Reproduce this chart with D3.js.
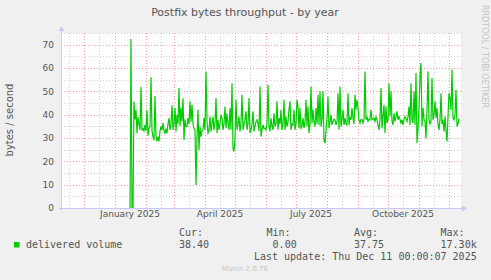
<!DOCTYPE html>
<html>
<head>
<meta charset="utf-8">
<script src="https://cdn.jsdelivr.net/npm/d3@7"></script>
<style>
  body { margin: 0; background: #f0f0f0; }
  svg { display: block; }
  text { fill: #555; }
</style>
</head>
<body>
<div id="chart"></div>
<script>
// delivered volume, one value per day, starting 2025-01-16
const seriesStart = Date.UTC(2025, 0, 16);
const delivered = [
  0, 72.4, 0, 0, 45.6, 38, 42, 32, 39, 36, 33.5, 52, 33.5, 34, 33, 35.6, 33, 42, 31, 34,
  35, 56, 33, 30.6, 29, 48, 31, 28.5, 30.6, 28.5, 33, 35, 33.5, 36.4, 33, 32, 34, 32, 36, 38.5,
  33.5, 36, 44, 33.5, 36, 43, 32.8, 40, 36, 51.4, 35, 42.8, 37, 47, 29.2, 38, 34.9, 35, 38.5, 36,
  45.7, 37, 44.2, 36, 34, 33.5, 9.9, 30, 42.1, 24.9, 34.9, 30.6, 33, 33.5, 38.5, 33.5, 58.5, 37.1, 32.1, 33,
  39.2, 32.8, 36, 39.2, 33.5, 36, 47.1, 32.1, 37.8, 33.5, 36, 39.9, 38.5, 33.5, 36, 43.5, 34.2, 40.6, 36, 33.5,
  42.8, 33.5, 53.5, 25.6, 24.2, 30, 46.4, 33.5, 36, 39.2, 32.8, 36.4, 48.5, 33.5, 36, 37.8, 41.4, 33.5, 36, 47.1,
  32.1, 33.5, 36, 41.4, 32.8, 34.9, 37, 37.8, 36.4, 33, 52.1, 30.6, 33.5, 35.6, 34, 34.2, 33.5, 36, 52.8, 34.9,
  32.8, 38.5, 35, 33.5, 40.6, 34.9, 36, 45.7, 33.5, 38.5, 36, 42.1, 33.5, 36, 46.4, 33.5, 39.2, 34.9, 37, 42.1,
  45.7, 33.5, 36, 35.6, 42.1, 33.5, 36, 46.4, 43.5, 34.2, 42.8, 34.2, 34.9, 38.5, 34.2, 37, 46.4, 34.9, 43.5, 32.1,
  36, 52.1, 36.4, 42.1, 37, 34.9, 42.8, 36, 48.5, 35.6, 50, 34.9, 38, 50, 29.2, 27.8, 33, 38.5, 47.8, 34.2,
  37, 39.9, 35.6, 37.1, 38, 37.8, 35.6, 37, 49.2, 33.5, 52.1, 34.9, 38, 42.1, 35.6, 38.5, 36, 35.6, 49.2, 35.6,
  39, 37.8, 42.8, 38.5, 36, 48.5, 42.1, 46.4, 42.8, 37.8, 36.4, 38, 37.8, 36.4, 38, 58.5, 37.8, 39.2, 37.1, 38,
  37.8, 42.1, 37.8, 38, 38.5, 37.1, 39, 37.8, 35.6, 33.5, 38, 51.4, 34.2, 39, 44.2, 32.1, 43.5, 36.4, 38, 53.5,
  39.2, 50, 37, 35.6, 40.6, 37.1, 39, 41.4, 37.8, 39.2, 38, 36.4, 37.8, 35.6, 38, 39.2, 38.5, 37.1, 39, 43.5,
  35.6, 53.5, 38, 36.4, 50, 35.6, 57.8, 27.8, 34, 42.8, 56.4, 62.1, 34.9, 42.8, 38, 37.1, 29.9, 42.1, 58.5, 37.8,
  36, 37.1, 55.7, 37.8, 40, 45.7, 38.5, 42.8, 36, 33.5, 37.8, 49.2, 36, 37.8, 32.8, 39.2, 33, 28.5, 39.2, 49.2,
  47.1, 42, 59.3, 38.5, 37.8, 40, 50.7, 34.9, 36, 38.4
];
const yMajorTicks = [0, 10, 20, 30, 40, 50, 60, 70];
const yMinorTicks = [5, 15, 25, 35, 45, 55, 65, 75];
const xLabelMonths = ["January 2025", "April 2025", "July 2025", "October 2025"];
const legendCols = ["Cur:", "Min:", "Avg:", "Max:"];
const legendVals = ["38.40", "0.00", "37.75", "17.30k"];

const W = 491, H = 280;
const plot = {left: 61, right: 461, top: 33, bottom: 208};

const svg = d3.select("#chart").append("svg")
    .attr("width", W).attr("height", H);

svg.append("rect").attr("width", W).attr("height", H).attr("fill", "#f0f0f0");
svg.append("rect")
    .attr("x", plot.left).attr("y", plot.top)
    .attr("width", plot.right - plot.left).attr("height", plot.bottom - plot.top)
    .attr("fill", "#ffffff");

const x = d3.scaleUtc()
    .domain([Date.UTC(2024, 10, 8), Date.UTC(2025, 11, 13)])
    .range([plot.left, plot.right]);
const y = d3.scaleLinear()
    .domain([0, 75])
    .range([plot.bottom, plot.top]);

const data = delivered.map((v, i) => ({t: new Date(seriesStart + i * 864e5), v: v}));

// grid
const grid = svg.append("g").attr("stroke-dasharray", "1,2").attr("stroke-width", 1);
const monthStarts = d3.utcMonth.range(x.domain()[0], x.domain()[1]);
const midMonths = monthStarts.map(d => d3.utcDay.offset(d, 15)).concat([Date.UTC(2024, 10, 16)]);

grid.selectAll(".vminor")
    .data(midMonths.filter(d => x(d) > plot.left && x(d) < plot.right))
    .join("line")
    .attr("x1", d => Math.round(x(d)) + 0.5).attr("x2", d => Math.round(x(d)) + 0.5)
    .attr("y1", plot.top).attr("y2", plot.bottom)
    .attr("stroke", "#d0d0d0");
grid.selectAll(".hminor")
    .data(yMinorTicks)
    .join("line")
    .attr("x1", plot.left).attr("x2", plot.right)
    .attr("y1", d => Math.round(y(d)) + 0.5).attr("y2", d => Math.round(y(d)) + 0.5)
    .attr("stroke", "#d0d0d0");
grid.selectAll(".vmajor")
    .data(monthStarts)
    .join("line")
    .attr("x1", d => Math.round(x(d)) + 0.5).attr("x2", d => Math.round(x(d)) + 0.5)
    .attr("y1", plot.top).attr("y2", plot.bottom)
    .attr("stroke", "#f3a0a0");
grid.selectAll(".hmajor")
    .data(yMajorTicks.filter(d => d > 0))
    .join("line")
    .attr("x1", plot.left).attr("x2", plot.right)
    .attr("y1", d => Math.round(y(d)) + 0.5).attr("y2", d => Math.round(y(d)) + 0.5)
    .attr("stroke", "#f3a0a0");

// data line
const line = d3.line()
    .x(d => x(d.t))
    .y(d => y(d.v));
svg.append("path")
    .datum(data)
    .attr("d", line)
    .attr("fill", "none")
    .attr("stroke", "#00cc00")
    .attr("stroke-width", 1.2);

// axes with arrows
const axisColor = "#c8c8f4";
svg.append("line")
    .attr("x1", plot.left + 0.5).attr("x2", plot.left + 0.5)
    .attr("y1", plot.bottom + 2).attr("y2", plot.top - 4)
    .attr("stroke", axisColor);
svg.append("path")
    .attr("d", `M${plot.left - 2.5},${plot.top - 2} L${plot.left + 0.5},${plot.top - 7} L${plot.left + 3.5},${plot.top - 2} Z`)
    .attr("fill", axisColor);
svg.append("line")
    .attr("x1", plot.left - 2).attr("x2", plot.right + 2)
    .attr("y1", plot.bottom + 0.5).attr("y2", plot.bottom + 0.5)
    .attr("stroke", axisColor);
svg.append("path")
    .attr("d", `M${plot.right + 1},${plot.bottom - 2.5} L${plot.right + 6},${plot.bottom + 0.5} L${plot.right + 1},${plot.bottom + 3.5} Z`)
    .attr("fill", axisColor);

// y tick labels
svg.append("g")
    .selectAll("text")
    .data(yMajorTicks)
    .join("text")
    .attr("x", 54)
    .attr("y", d => y(d) + 3.3)
    .attr("text-anchor", "end")
    .style("font", "9px 'DejaVu Sans'")
    .text(d => d);

// x labels, centred mid-month like rrdtool
const labelDates = [Date.UTC(2025, 0, 16), Date.UTC(2025, 3, 16), Date.UTC(2025, 6, 16), Date.UTC(2025, 9, 16)];
svg.append("g")
    .selectAll("text")
    .data(xLabelMonths)
    .join("text")
    .attr("x", (d, i) => x(labelDates[i]))
    .attr("y", 217)
    .attr("text-anchor", "middle")
    .style("font", "9px 'DejaVu Sans'")
    .text(d => d);

// titles
svg.append("text")
    .attr("x", 245).attr("y", 16)
    .attr("text-anchor", "middle")
    .style("font", "11px 'DejaVu Sans'")
    .text("Postfix bytes throughput - by year");
svg.append("text")
    .attr("transform", "translate(13,120) rotate(-90)")
    .attr("text-anchor", "middle")
    .style("font", "10px 'DejaVu Sans'")
    .text("bytes / second");
svg.append("text")
    .attr("transform", "translate(482,5) rotate(90)")
    .attr("text-anchor", "start")
    .style("font", "8px 'DejaVu Sans'")
    .style("fill", "#c4c4c4")
    .text("RRDTOOL / TOBI OETIKER");

// legend
const mono = "10px 'DejaVu Sans Mono'";
svg.append("rect")
    .attr("x", 14).attr("y", 242).attr("width", 5.5).attr("height", 5.5)
    .attr("fill", "#00cc00");
svg.append("text").attr("x", 26).attr("y", 248).style("font", mono).text("delivered volume");
const colX = [179, 266.5, 354, 440.5];
const valEnd = [209, 296.7, 384, 476.7];
svg.append("g").selectAll("text").data(legendCols).join("text")
    .attr("x", (d, i) => colX[i]).attr("y", 236)
    .style("font", mono).text(d => d);
svg.append("g").selectAll("text").data(legendVals).join("text")
    .attr("x", (d, i) => valEnd[i]).attr("y", 248)
    .attr("text-anchor", "end")
    .style("font", mono).text(d => d);
svg.append("text")
    .attr("x", 476.7).attr("y", 259.5)
    .attr("text-anchor", "end")
    .style("font", mono)
    .text("Last update: Thu Dec 11 00:00:07 2025");
svg.append("text")
    .attr("x", 245).attr("y", 271)
    .attr("text-anchor", "middle")
    .style("font", "7px 'DejaVu Sans'")
    .style("fill", "#c4c4c4")
    .text("Munin 2.0.76");
</script>
</body>
</html>
